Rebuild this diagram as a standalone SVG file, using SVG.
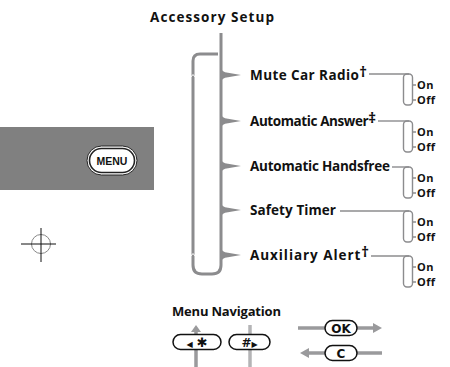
<svg xmlns="http://www.w3.org/2000/svg" width="450" height="367" viewBox="0 0 450 367">
<style>
.lbl{font-family:"Open Sans","DejaVu Sans",sans-serif;font-weight:bold;font-size:13.5px;fill:#111}
.opt{font-family:"Open Sans","DejaVu Sans",sans-serif;font-weight:bold;font-size:11px;letter-spacing:0.4px;fill:#111}
.main{fill:none;stroke:#8c8c8e;stroke-width:3;stroke-linejoin:round}
.thin{fill:none;stroke:#8c8c8e;stroke-width:1.4}
.spike{fill:#8c8c8e}
.nav{stroke:#9a9a9c;stroke-width:3.5;fill:none}
.navl{stroke:#b4b4b6;stroke-width:3.5;fill:none}
.head{fill:#9a9a9c}
.pill{fill:#fff;stroke:#111;stroke-width:1.5}
.ptxt{font-family:"DejaVu Sans",sans-serif;font-weight:bold;font-size:12px;fill:#111}
</style>
<defs>
<path id="spk" d="M220,-9 Q221.5,-2.5 228,-2.2 L241,0 L228,2.2 Q221.5,2.5 220,9 Z"/>
<g id="brk">
<rect class="thin" x="403.5" y="0" width="9" height="31" rx="3.5"/>
<path class="thin" d="M412.5,11 H416 M412.5,26 H416"/>
</g>
</defs>
<rect x="0" y="127" width="154" height="63" fill="#808080"/>
<g id="menu-button">
<rect x="87" y="146" width="50" height="29" rx="14.5" fill="#fff" stroke="#222" stroke-width="1"/>
<rect x="89.5" y="148.5" width="45" height="24" rx="12" fill="#fff" stroke="#222" stroke-width="1.6"/>
<text x="112" y="164.5" text-anchor="middle" font-family="Liberation Sans,Arial,sans-serif" font-weight="bold" font-size="10.5" fill="#111">MENU</text>
</g>
<g id="crosshair">
<circle cx="41" cy="244" r="9.5" fill="none" stroke="#888" stroke-width="1"/>
<line x1="21" y1="244" x2="56" y2="244" stroke="#111" stroke-width="1"/>
<line x1="41" y1="228" x2="41" y2="262" stroke="#111" stroke-width="1"/>
</g>
<g id="title"><text class="lbl" x="150" y="22" textLength="124" lengthAdjust="spacing">Accessory Setup</text></g>
<g id="connectors">
<path class="main" d="M221,33 V265 Q221,274 212,274 H202 Q193,274 193,265 V61 Q193,54 200,54 H218"/>
<polyline points="190,78 193,74.5 196,78" fill="none" stroke="#fff" stroke-width="1"/>
<polyline points="190,257 193,253.5 196,257" fill="none" stroke="#fff" stroke-width="1"/>
<use href="#spk" class="spike" transform="translate(0,75)"/>
<use href="#spk" class="spike" transform="translate(0,121)"/>
<use href="#spk" class="spike" transform="translate(0,166)"/>
<use href="#spk" class="spike" transform="translate(0,210)"/>
<use href="#spk" class="spike" transform="translate(0,255)"/>
<line class="thin" x1="369" y1="74" x2="409" y2="74"/>
<line class="thin" x1="378" y1="121" x2="409" y2="121"/>
<line class="thin" x1="392" y1="167" x2="409" y2="167"/>
<line class="thin" x1="340" y1="211" x2="409" y2="211"/>
<line class="thin" x1="371" y1="256" x2="409" y2="256"/>
<use href="#brk" transform="translate(0,74)"/>
<use href="#brk" transform="translate(0,121)"/>
<use href="#brk" transform="translate(0,167)"/>
<use href="#brk" transform="translate(0,211)"/>
<use href="#brk" transform="translate(0,256)"/>
</g>
<g id="mute-car-radio"><text class="lbl" x="250" y="80" textLength="117" lengthAdjust="spacing">Mute Car Radio<tspan font-size="15" dy="-3">†</tspan></text>
<text class="opt" x="417" y="89">On</text><text class="opt" x="417" y="104">Off</text></g>
<g id="automatic-answer"><text class="lbl" x="250" y="126" textLength="126" lengthAdjust="spacing">Automatic Answer<tspan font-size="15" dy="-3">‡</tspan></text>
<text class="opt" x="417" y="136">On</text><text class="opt" x="417" y="151">Off</text></g>
<g id="automatic-handsfree"><text class="lbl" x="250" y="171" textLength="140" lengthAdjust="spacing">Automatic Handsfree</text>
<text class="opt" x="417" y="182">On</text><text class="opt" x="417" y="197">Off</text></g>
<g id="safety-timer"><text class="lbl" x="250" y="215" textLength="86" lengthAdjust="spacing">Safety Timer</text>
<text class="opt" x="417" y="226">On</text><text class="opt" x="417" y="241">Off</text></g>
<g id="auxiliary-alert"><text class="lbl" x="250" y="260" textLength="119" lengthAdjust="spacing">Auxiliary Alert<tspan font-size="15" dy="-3">†</tspan></text>
<text class="opt" x="417" y="271">On</text><text class="opt" x="417" y="286">Off</text></g>
<g id="menu-navigation"><text class="lbl" x="172" y="316" textLength="109" lengthAdjust="spacing" style="font-size:13px">Menu Navigation</text></g>
<g id="nav-connectors">
<line class="nav" x1="196" y1="331" x2="196" y2="335"/>
<polygon class="head" points="191,332 196,325 201,332"/>
<line class="nav" x1="196" y1="349" x2="196" y2="367"/>
<line class="navl" x1="250" y1="325" x2="250" y2="335"/>
<line class="navl" x1="250" y1="349" x2="250" y2="367"/>
<line class="nav" x1="298" y1="328" x2="326" y2="328"/>
<line class="nav" x1="356" y1="328" x2="374" y2="328"/>
<polygon class="head" points="373,323 382,328 373,333"/>
<line class="nav" x1="309" y1="353" x2="326" y2="353"/>
<polygon class="head" points="309,348 300,353 309,358"/>
<line class="nav" x1="356" y1="353" x2="382" y2="353"/>
</g>
<g id="left-star-key"><rect class="pill" x="173" y="334.5" width="48" height="15" rx="7.5"/>
<text class="ptxt" x="197" y="347" text-anchor="middle"><tspan font-size="8">◀</tspan> <tspan font-size="13">✱</tspan></text></g>
<g id="hash-right-key"><rect class="pill" x="229" y="334.5" width="41" height="15" rx="7.5"/>
<text class="ptxt" x="249.5" y="347" text-anchor="middle">#<tspan font-size="8">▶</tspan></text></g>
<g id="ok-key"><rect class="pill" x="325" y="320.5" width="32" height="15" rx="7.5"/>
<text class="ptxt" x="341" y="332.5" text-anchor="middle">OK</text></g>
<g id="c-key"><rect class="pill" x="325" y="345.5" width="32" height="15" rx="7.5"/>
<text class="ptxt" x="341" y="357.5" text-anchor="middle">C</text></g>
</svg>
